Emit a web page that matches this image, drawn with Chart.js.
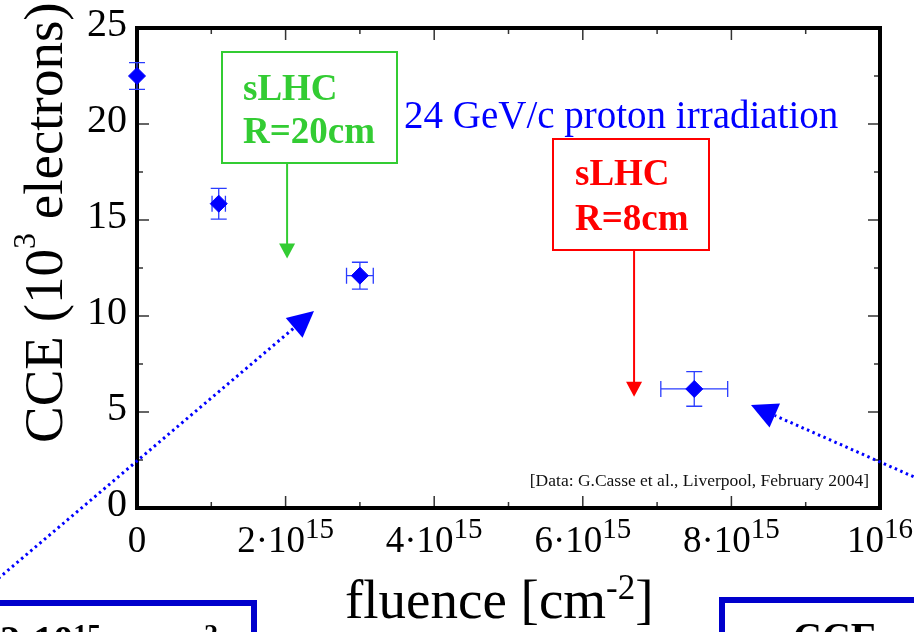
<!DOCTYPE html>
<html>
<head>
<meta charset="utf-8">
<script src="https://cdn.jsdelivr.net/npm/chart.js@4.4.1/dist/chart.umd.min.js"></script>
<style>
  html, body { margin: 0; padding: 0; background: #fff; }
  #wrap { width: 914px; height: 632px; position: relative; overflow: hidden; }
</style>
</head>
<body>
<div id="wrap"><canvas id="cce" width="914" height="632"></canvas></div>
<script>
// fluence in cm^-2, CCE in 10^3 electrons (24 GeV/c protons)
const fluence = [0, 1.1e15, 3.0e15, 7.5e15];
const fluenceErr = [0, 0.09e15, 0.18e15, 0.45e15];
const cce = [22.5, 15.85, 12.1, 6.2];
const cceErr = [0.7, 0.8, 0.7, 0.9];

const xMajorTicks = [0, 2e15, 4e15, 6e15, 8e15, 1e16];
const xTickBase = ['0', '2·10', '4·10', '6·10', '8·10', '10'];
const xTickExp = ['', '15', '15', '15', '15', '16'];
const xMinorTicks = [1e15, 3e15, 5e15, 7e15, 9e15];
const yMajorTicks = [0, 5, 10, 15, 20, 25];
const yMinorTicks = [2.5, 7.5, 12.5, 17.5, 22.5];

// sLHC expectations: fluence at the arrow, CCE where the arrow stops
const sLHCLabels = [['sLHC', 'R=20cm'], ['sLHC', 'R=8cm']];
const sLHCFluence = [2.02e15, 6.69e15];
const sLHCTip = [13.0, 5.8];

const SERIF = '"Liberation Serif", "Times New Roman", serif';

// draw text made of runs (normal + superscript), returns width
function drawRuns(ctx, runs, x, y, align) {
  let w = 0;
  runs.forEach(r => { ctx.font = r.font; w += ctx.measureText(r.t).width; });
  let cx = align === 'center' ? x - w / 2 : align === 'right' ? x - w : x;
  ctx.textAlign = 'left';
  runs.forEach(r => {
    ctx.font = r.font;
    ctx.fillText(r.t, cx, y - (r.dy || 0));
    cx += ctx.measureText(r.t).width;
  });
  return w;
}

function arrowHead(ctx, x0, y0, x1, y1, len, half) {
  const a = Math.atan2(y1 - y0, x1 - x0);
  const bx = x1 - Math.cos(a) * len, by = y1 - Math.sin(a) * len;
  ctx.beginPath();
  ctx.moveTo(x1, y1);
  ctx.lineTo(bx + Math.sin(a) * half, by - Math.cos(a) * half);
  ctx.lineTo(bx - Math.sin(a) * half, by + Math.cos(a) * half);
  ctx.closePath();
  ctx.fill();
  return [bx, by];
}

const framePlugin = {
  id: 'frame',
  beforeDatasetsDraw(chart) {
    const {ctx, chartArea: a, scales: {x, y}} = chart;
    ctx.save();
    ctx.strokeStyle = '#333';
    ctx.lineWidth = 1.5;
    ctx.beginPath();
    xMajorTicks.concat(xMinorTicks).forEach(v => {
      const px = x.getPixelForValue(v);
      const len = xMajorTicks.includes(v) ? 12 : 6;
      ctx.moveTo(px, a.bottom); ctx.lineTo(px, a.bottom - len);
      ctx.moveTo(px, a.top); ctx.lineTo(px, a.top + len);
    });
    yMajorTicks.concat(yMinorTicks).forEach(v => {
      const py = y.getPixelForValue(v);
      const len = yMajorTicks.includes(v) ? 12 : 6;
      ctx.moveTo(a.left, py); ctx.lineTo(a.left + len, py);
      ctx.moveTo(a.right, py); ctx.lineTo(a.right - len, py);
    });
    ctx.stroke();

    ctx.strokeStyle = '#000';
    ctx.lineWidth = 4;
    ctx.strokeRect(a.left, a.top, a.right - a.left, a.bottom - a.top);

    // tick labels
    ctx.fillStyle = '#000';
    ctx.textBaseline = 'middle';
    ctx.textAlign = 'right';
    ctx.font = '40px ' + SERIF;
    yMajorTicks.forEach(v => ctx.fillText(String(v), a.left - 10, y.getPixelForValue(v) - 3));

    ctx.textBaseline = 'alphabetic';
    xMajorTicks.forEach((v, i) => {
      const runs = [{t: xTickBase[i], font: '37px ' + SERIF}];
      if (xTickExp[i]) runs.push({t: xTickExp[i], font: '29px ' + SERIF, dy: 14});
      drawRuns(ctx, runs, x.getPixelForValue(v), a.bottom + 44, 'center');
    });

    // axis titles
    drawRuns(ctx, [
      {t: 'fluence [cm', font: '55px ' + SERIF},
      {t: '-2', font: '35px ' + SERIF, dy: 19},
      {t: ']', font: '55px ' + SERIF}
    ], 345, 618, 'left');

    ctx.save();
    ctx.translate(62, 443);
    ctx.rotate(-Math.PI / 2);
    drawRuns(ctx, [
      {t: 'CCE (10', font: '55px ' + SERIF},
      {t: '3', font: '32px ' + SERIF, dy: 27},
      {t: ' electrons)', font: '55px ' + SERIF}
    ], 0, 0, 'left');
    ctx.restore();
    ctx.restore();
  }
};

const errorBarPlugin = {
  id: 'errbars',
  beforeDatasetsDraw(chart) {
    const {ctx, scales: {x, y}} = chart;
    ctx.save();
    ctx.strokeStyle = '#2a3cff';
    ctx.lineWidth = 1.3;
    ctx.beginPath();
    fluence.forEach((f, i) => {
      const px = x.getPixelForValue(f), py = y.getPixelForValue(cce[i]);
      const y0 = y.getPixelForValue(cce[i] - cceErr[i]), y1 = y.getPixelForValue(cce[i] + cceErr[i]);
      ctx.moveTo(px, y0); ctx.lineTo(px, y1);
      ctx.moveTo(px - 8, y0); ctx.lineTo(px + 8, y0);
      ctx.moveTo(px - 8, y1); ctx.lineTo(px + 8, y1);
      if (fluenceErr[i] > 0) {
        const x0 = x.getPixelForValue(f - fluenceErr[i]), x1 = x.getPixelForValue(f + fluenceErr[i]);
        ctx.moveTo(x0, py); ctx.lineTo(x1, py);
        ctx.moveTo(x0, py - 8); ctx.lineTo(x0, py + 8);
        ctx.moveTo(x1, py - 8); ctx.lineTo(x1, py + 8);
      }
    });
    ctx.stroke();
    ctx.restore();
  }
};

const annotationPlugin = {
  id: 'notes',
  afterDraw(chart) {
    const {ctx, chartArea: a, scales: {x, y}} = chart;
    ctx.save();

    // beam note
    ctx.fillStyle = '#0000ff';
    ctx.font = '39px ' + SERIF;
    ctx.textAlign = 'left';
    ctx.textBaseline = 'alphabetic';
    ctx.fillText('24 GeV/c proton irradiation', 404, 128);

    // data source
    ctx.fillStyle = '#111';
    ctx.font = '17.5px ' + SERIF;
    ctx.textAlign = 'right';
    ctx.fillText('[Data: G.Casse et al., Liverpool, February 2004]', a.right - 11, a.bottom - 22);

    // sLHC boxes with arrows
    const boxes = [
      {color: '#33cc33', left: 222, top: 52, w: 175, h: 111, textX: 243, base: [100, 143]},
      {color: '#ff0000', left: 553, top: 139, w: 156, h: 111, textX: 575, base: [185, 230]}
    ];
    boxes.forEach((b, i) => {
      ctx.strokeStyle = b.color;
      ctx.fillStyle = b.color;
      ctx.lineWidth = 2;
      ctx.strokeRect(b.left, b.top, b.w, b.h);
      ctx.font = 'bold 37px ' + SERIF;
      ctx.textAlign = 'left';
      sLHCLabels[i].forEach((t, k) => ctx.fillText(t, b.textX, b.base[k]));
      const ax = x.getPixelForValue(sLHCFluence[i]);
      const tip = y.getPixelForValue(sLHCTip[i]);
      const [, by] = arrowHead(ctx, ax, b.top + b.h, ax, tip, 15, 8);
      ctx.beginPath();
      ctx.moveTo(ax, b.top + b.h);
      ctx.lineTo(ax, by + 1);
      ctx.stroke();
    });

    // dotted pointers from the boxes below
    ctx.strokeStyle = '#0000ff';
    ctx.fillStyle = '#0000ff';
    ctx.lineWidth = 3;
    [[-20, 594, 314, 311], [930, 484, 751, 405]].forEach(([x0, y0, x1, y1]) => {
      ctx.setLineDash([]);
      const [bx, by] = arrowHead(ctx, x0, y0, x1, y1, 26, 13);
      ctx.setLineDash([2.5, 3.5]);
      ctx.beginPath();
      ctx.moveTo(x0, y0);
      ctx.lineTo(bx, by);
      ctx.stroke();
    });
    ctx.setLineDash([]);

    // boxes cut by the slide edge
    ctx.strokeStyle = '#0000cc';
    ctx.lineWidth = 6;
    ctx.fillStyle = '#fff';
    ctx.fillRect(-10, 603, 264, 60);
    ctx.strokeRect(-10, 603, 264, 60);
    ctx.fillRect(722, 600, 250, 60);
    ctx.strokeRect(722, 600, 250, 60);

    ctx.fillStyle = '#000';
    drawRuns(ctx, [
      {t: '2·10', font: 'bold 40px ' + SERIF},
      {t: '15', font: 'bold 28px ' + SERIF, dy: 10},
      {t: ' p cm', font: 'bold 40px ' + SERIF},
      {t: '-2', font: 'bold 28px ' + SERIF, dy: 10}
    ], 0, 653, 'left');
    ctx.font = 'bold 40px ' + SERIF;
    ctx.textAlign = 'left';
    ctx.fillText('CCE', 793, 650);
    ctx.restore();
  }
};

new Chart(document.getElementById('cce'), {
  type: 'scatter',
  data: {
    datasets: [{
      data: fluence.map((f, i) => ({x: f, y: cce[i]})),
      pointStyle: 'rectRot',
      pointRadius: 8.5,
      backgroundColor: '#0000ff',
      borderColor: '#0000ff',
      borderWidth: 1,
      showLine: false,
      clip: false
    }]
  },
  options: {
    responsive: false,
    animation: false,
    events: [],
    devicePixelRatio: 1,
    layout: {padding: {left: 137, top: 28, right: 34, bottom: 124}},
    plugins: {legend: {display: false}, tooltip: {enabled: false}},
    scales: {
      x: {type: 'linear', min: 0, max: 1e16, display: false},
      y: {min: 0, max: 25, display: false}
    }
  },
  plugins: [framePlugin, errorBarPlugin, annotationPlugin]
});
</script>
</body>
</html>
